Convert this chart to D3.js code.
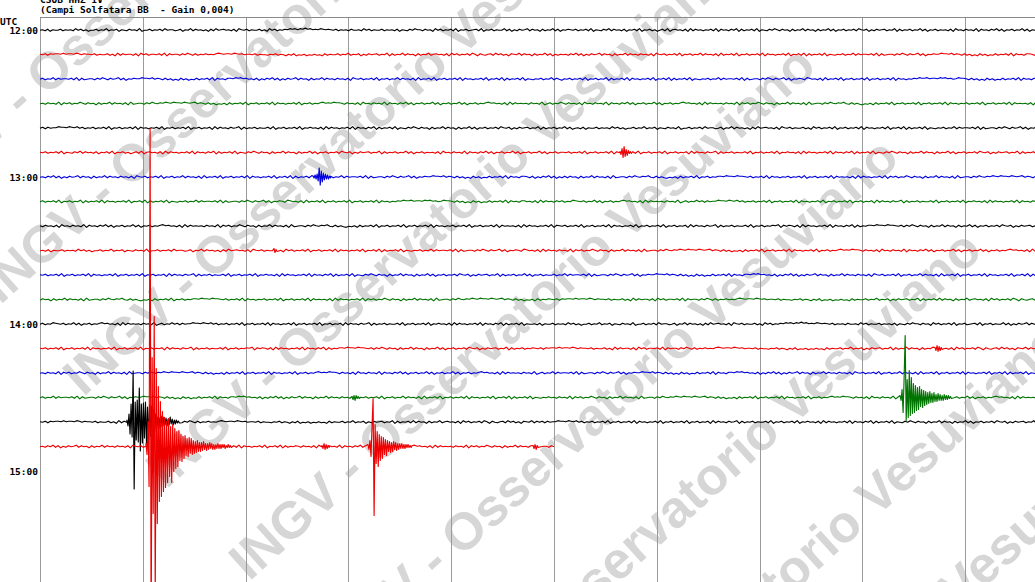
<!DOCTYPE html>
<html><head><meta charset="utf-8">
<script src="https://cdn.jsdelivr.net/npm/d3@7"></script>
<style>html,body{margin:0;padding:0;background:#fff;overflow:hidden}svg{display:block}text{white-space:pre}</style>
</head><body><svg id="c" width="1035" height="582"></svg>
<script>
// ---------------- DATA ----------------
const headerLines = ["CSOB HHZ IV", "(Campi Solfatara BB  - Gain 0,004)"];
const axisTitle = "UTC";
const hourLabels = ["12:00", "13:00", "14:00", "15:00"];
const hourOffsets = [0, 60, 120, 180];               // minutes after 12:00
const rowStarts = [0,10,20,30,40,50,60,70,80,90,100,110,120,130,140,150,160,170]; // minutes after 12:00
const rowLengths = [10,10,10,10,10,10,10,10,10,10,10,10,10,10,10,10,10,5];        // minutes of data per row
const traceColors = ["#000000", "#ee0000", "#0000dd", "#007400"];
const gridMinutes = [0,1,2,3,4,5,6,7,8,9,10];
const watermarkText = "INGV - Osservatorio Vesuviano";

// background noise of each row, one digit per sample (0..9, 4.5 = zero level)
const noise = [
"4536254463545374635244635473546254364537244635463745534625473645352637456453627546354463527463546576757686756576565463545364453746354463545362543647553645274635463725463456372546354473625364573645263547362546"+"5463546372543647364536254637254635246372564536273645354637264536472635463725436475364526354736452635473625463546375462536456354726354635473625463545362745364537264536473625463547362546354736254635",
"5463656657566576465546354463527364553627463554637264553647536354645467656657656455463544354635425362435243534263544635473546253645635472635473645263547356453627463546375264356374635265473645263547362535"+"4536473625364573645263547364536453627546354637254635473645362735463725463546372645354637254637263546372543546354736455463726345536475364573625465576657465363524263524363546372645366536253647362536",
"4635473645546372634553647536457362546557665746536352426352436354637264536657675645362536473625364573645263547364536453627546354637254635473645362735463725463546372645354637254637263546372543546354736425"+"4635463725463547263546372645354637254637263546372543546354736455463726345536475364573625465376453627354637254635463725463546372645354657667566576756457665363524263524363546372645366453627364536",
"4536453726463547536452635473645362734553647546576576657656746536352435263546372546354637264535463725463546756576653645362745364537264536473625463547362546354736254635467564536273645453645372463547"+"5364536274536453726453647362546354736254635467564536273645453645372646354753645263547364536273455364754657436353243526354637254635463725463546372645354635463725463546372645453627364535463726",
"4636455766576574635463546372546354637264535463725463546372546354627364536457263546354463725463546372546453627364535463726453647263546372543647536452635473645263547362546354637546253645635472635463547362"+"4536254463545374635244635473546254364537244635463745534625473645352637456453627546354463527463546372546354637264535463725463726354637254354635473645546372634553647536457362546537645362736",
"5463546372543647364536254637254635246372564536273645354637264536472635463725436475364526354736452635473625463546375462536456354726354635473625463545362745364537264536473625463547362546354736254635"+"5463546372546354637264535463725463546372546354627364536457263546354463725463546372546453627364535463726453647263546372543647536452635473645263547362546354637546253645635472635463547362546354",
"4536473625364573645263547364536453627546354637254635473645362735463725463546372645354637254637263546372543546354736455463726345536475364573625465576657465363524263524363546372645366536253647362536"+"3645263547364536273455364754657436353243526354637254635466576657665463546372645354635463725463546372645453627364535463726463547536452635473645362734553647546576576657656746536352435263546",
"4635463725463547263546372645354637254637263546372543546354736455463726345536475364573625465376453627354637254635463725463546372645354657667566576756457665363524263524363546372645366453627364536"+"4635476546354736254635467564536273645453645372463547463645576657657463546354637254635463726453546372546354637254635462736453645726354635446372546354637254645362736453546372645364726354637254",
"5364536274536453726453647362546354736254635467564536273645453645372646354753645263547364536273455364754657436353243526354637254635463725463546372645354635463725463546372645453627364535463726"+"5463546372546354637264535463725463546372546354627364536457263546354463725463546572646536273645354637264536472635466576657665463647536452635473645263547362546354637546253645635472635463546",
"4536254463545374635244635473546254364537244635463745534625473645352637456453627546354463527463546372546354637264535463725463726354637254354635473645546372634553647536457362546537645362736"+"4536453726463547536452635473645362734553647546576576657656746536352435263546372546354637264535463725463546756576653645362745364537264536473625463547362546354736254635467564536273645453645372",
"5463546372546354637264535463725463546372546354627364536457263546354463725463546372546453627364535463726453647263546372543647536452635473645263547362546354637546253645635472635463547362546354"+"4635473645546372634553647536457362546557665746536352426352436354637264536657675645362536473625364573645263547364536453627546354637254635473645362735463725463546372645354637254637263546372543546",
"3645263547364536273455364754657436353243526354637254635466576657665463546372645354635463725463546372645453627364535463726463547536452635473645362734553647546576576657656746536352435263546"+"5463656657566576465546354463527364553627463554637264553647536354645467656657656455463544354635425362435243534263544635473546253645635472635463736452635473564536274635463752643563746352654736",
"4635476546354736254635467564536273645453645372463547463645576657657463546354637254635463726453546372546354637254635462736453645726354635446372546354637254645362736453546372645364726354637254"+"4536254463545374635244635473546254364537244635463745534625473645352637456453627546354463527463546576757686756576565463545364453746354463545362543647553645274635463725463456372546354473625364573645263547362546",
"5463546372546354637264535463725463546372546354627364536457263546354463725463546572646536273645354637264536472635466576657665463647536452635473645263547362546354637546253645635472635463546"+"5463656657566576465546354463527364553627463554637264553647536354645467656657656455463544354635425362435243534263544635473546253645635472635473645263547356453627463546375264356374635265473645263547362535",
"4536453726463547536452635473645362734553647546576576657656746536352435263546372546354637264535463725463546756576653645362745364537264536473625463547362546354736254635467564536273645453645372"+"4635473645546372634553647536457362546557665746536352426352436354637264536657675645362536473625364573645263547364536453627546354637254635473645362735463725463546372645354637254637263546372543546354736425",
"4635473645546372634553647536457362546557665746536352426352436354637264536657675645362536473625364573645263547364536453627546354637254635473645362735463725463546372645354637254637263546372543546"+"4536453726463547536452635473645362734553647546576576657656746536352435263546372546354637264535463725463546756576653645362745364537264536473625463547362546354736254635467564536273645453645372463547",
"5463656657566576465546354463527364553627463554637264553647536354645467656657656455463544354635425362435243534263544635473546253645635472635463736452635473564536274635463752643563746352654736"+"4636455766576574635463546372546354637264535463725463546372546354627364536457263546354463725463546372546453627364535463726453647263546372543647536452635473645263547362546354637546253645635472635463547362",
"4536473625364573645263547364536453627546354637254635473645362735463725463546372645354637254637263546"+"5364536274536453726453647362546354736254635467564536273645453645372646354753645263547364536273455364"
];

// seismic events: row index, start (minutes into the row), samples (amplitude units)
const eventStep = 0.01;
const eventRow   = [5, 6, 9, 13, 15, 15, 16, 17, 17, 17, 17];
const eventStart = [5.642, 2.656, 2.276, 8.706, 3.035, 8.366, 0.846, 1.031, 2.743, 3.19, 4.796];
const eventSamples = [
  [1,-2,4,-5,6,-4,3,-3,2,-1,1,-1],
  [1,-1,2,-2,3,-4,9,-8,6,-5,4,-3,3,-2,2,-2,1,-1],
  [2,-2,1,-1],
  [1,-2,3,-3,2,-2,1,-1],
  [1,-2,2,-3,2,-1,1,-1],
  [2,-3,8,-15,20,62,-23,18,-20,27,-18,20,-16,14,-15,12,-13,10,-12,11,-9,8,-10,7,-8,6,-7,5,-6,6,-5,4,-5,5,-4,3,-4,4,-3,3,-3,2,-3,3,-2,2,-2,2,-1,1,-1],
  [2,-4,8,-12,18,-15,51,-67,20,-18,22,-20,34,-29,18,-21,19,-16,20,-22,15,-18,17,-14,16,-19,12,-10,8,-6,5,-7,4,-5,6,-4,5,-3,4,-4,3,-3,5,-2,3,-3,2,-2,2,-1,1,-1],
  [3,-8,25,-40,318,-200,89,-67,130,-150,78,-77,60,-55,45,-50,35,-45,29,-41,25,-36,28,-30,20,-36,22,-25,18,-22,15,-20,16,-14,12,-15,10,-12,11,-9,8,-10,9,-7,8,-8,6,-7,5,-6,6,-5,4,-5,4,-4,5,-3,3,-4,3,-3,4,-2,3,-3,2,-3,2,-2,3,-2,2,-2,2,-1,2,-2,1,-1,2,-1,1,-1],
  [1,-2,3,-3,2,-2,1,-1],
  [2,-3,6,-10,20,48,-69,22,-17,15,-20,12,-14,10,-12,9,-8,7,-9,6,-5,5,-6,4,-5,5,-3,4,-4,3,-3,3,-2,3,-2,2,-2,2,-1,2,-1,1,-1],
  [1,-2,2,-3,1,-1]
];

// ---------------- DRAWING ----------------
const W = 1035, H = 582;
const svg = d3.select("#c");
const x = d3.scaleLinear().domain([0, 10]).range([40, 1068]);
const y = d3.scaleLinear().domain([0, 180]).range([30, 471]);
const amp = d3.scaleLinear().domain([-100, 100]).range([100, -100]);
const code = d3.scaleLinear().domain([0, 9]).range([-2.4, 2.4]);

// watermark
const wm = svg.append("g").attr("transform", "rotate(-42)");
d3.range(-2, 7).forEach(k => {
  wm.append("text")
    .attr("x", -204).attr("y", 351 + 124 * k)
    .attr("font-family", "'Liberation Sans', Arial, sans-serif")
    .attr("font-weight", "bold").attr("font-size", 52)
    .attr("fill", "#d6d6d6")
    .text(watermarkText);
});

// grid
svg.append("g").selectAll("line").data(gridMinutes).join("line")
  .attr("x1", d => Math.round(x(d)) + 0.5).attr("x2", d => Math.round(x(d)) + 0.5)
  .attr("y1", 17).attr("y2", H)
  .attr("stroke", "#9a9a9a").attr("stroke-width", 1);
svg.append("line").attr("x1", 40).attr("x2", W).attr("y1", 17.5).attr("y2", 17.5)
  .attr("stroke", "#8a8a8a");

// texts
const mono = "'DejaVu Sans Mono', 'Liberation Mono', monospace";
const txt = (s, xx, yy, anchor) => svg.append("text").attr("x", xx).attr("y", yy)
  .attr("xml:space", "preserve")
  .attr("font-family", mono).attr("font-weight", "bold").attr("font-size", 9.5)
  .attr("text-anchor", anchor || "start").attr("fill", "#000").text(s);
txt(headerLines[0], 40, 3);
txt(headerLines[1], 40, 13);
txt(axisTitle, 0, 25);
hourLabels.forEach((l, i) => txt(l, 38, y(hourOffsets[i]) + 4, "end"));

// traces
rowStarts.forEach((m, r) => {
  const s = noise[r], n = s.length, span = rowLengths[r];
  let pts = Array.from(s, (c, i) => ({ t: span * i / (n - 1), a: code(+c) }));
  eventRow.forEach((er, e) => {
    if (er !== r) return;
    const t0 = eventStart[e], vals = eventSamples[e];
    const t1 = t0 + eventStep * (vals.length - 1);
    pts = pts.filter(p => p.t < t0 || p.t > t1)
      .concat(vals.map((v, j) => ({ t: t0 + j * eventStep, a: v })));
  });
  pts.sort((a, b) => a.t - b.t);
  const line = d3.line().x(d => x(d.t)).y(d => y(m) + amp(d.a));
  svg.append("path").attr("d", line(pts))
    .attr("fill", "none").attr("stroke", traceColors[r % 4])
    .attr("stroke-width", 1.15).attr("stroke-linejoin", "round");
});
</script>
</body></html>
